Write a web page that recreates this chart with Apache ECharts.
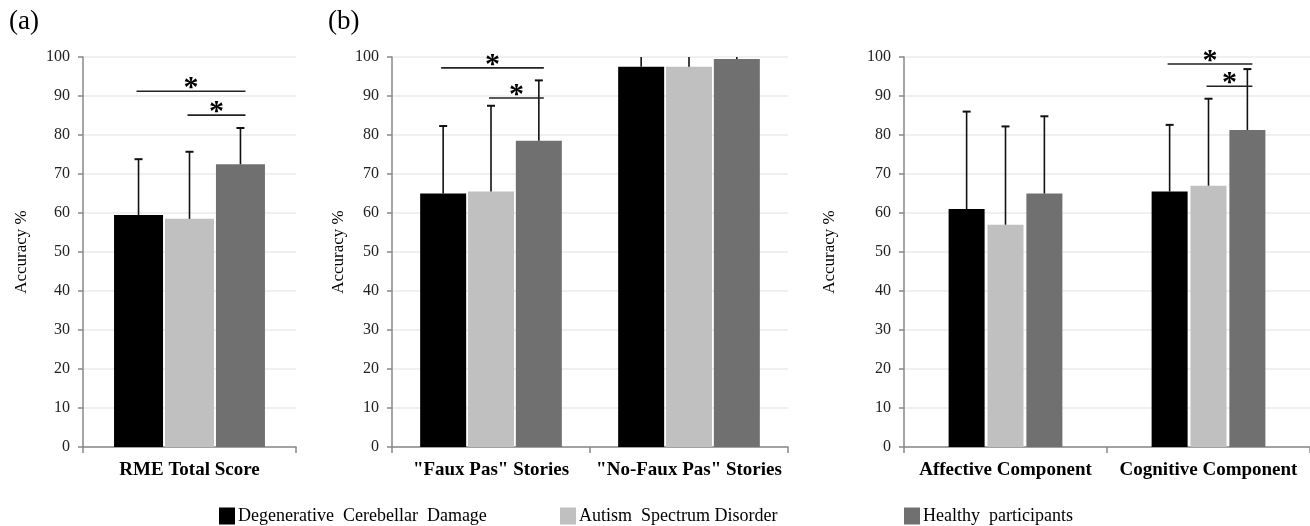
<!DOCTYPE html>
<html>
<head>
<meta charset="utf-8">
<script src="https://cdn.jsdelivr.net/npm/echarts@6/dist/echarts.min.js"></script>
<style>
  html, body { margin: 0; padding: 0; background: #fff; }
  #chart { width: 1310px; height: 526px; }
</style>
</head>
<body>
<div id="chart"></div>
<script>
// groups (legend)
const groups = ['Degenerative  Cerebellar  Damage', 'Autism  Spectrum Disorder', 'Healthy  participants']
const groupColors = ['#000000', '#c0c0c0', '#707070']

// (a) RME
const categoriesA = ['RME Total Score']
const meanA = [[59.5], [58.5], [72.5]]
const upperA = [[73.8], [75.7], [81.8]]
// [category, fromGroup, toGroup, y]
const sigA = [[0, 0, 2, 91.2], [0, 1, 2, 85.1]]

// (b) Faux pas
const categoriesB = ['"Faux Pas" Stories', '"No-Faux Pas" Stories']
const meanB = [[65, 97.5], [65.5, 97.5], [78.5, 99.5]]
const upperB = [[82.3, 103], [87.5, 103], [94, 100.6]]
const sigB = [[0, 0, 2, 97.2], [0, 1, 2, 89.5]]

// (b) components
const categoriesC = ['Affective Component', 'Cognitive Component']
const meanC = [[61, 65.5], [57, 67], [65, 81.3]]
const upperC = [[86, 82.6], [82.2, 89.3], [84.8, 96.9]]
const sigC = [[1, 0, 2, 98.2], [1, 1, 2, 92.5]]

const yTicks = [0, 10, 20, 30, 40, 50, 60, 70, 80, 90, 100]

const font = '"Liberation Serif", "DejaVu Serif", serif'

const panels = [
  { cats: categoriesA, mean: meanA, upper: upperA, sig: sigA, left: 83, right: 1014, bw: 49, gap: 0.04, nameGap: 53 },
  { cats: categoriesB, mean: meanB, upper: upperB, sig: sigB, left: 392, right: 522, bw: 46, gap: 0.04, nameGap: 45 },
  { cats: categoriesC, mean: meanC, upper: upperC, sig: sigC, left: 904, right: -10, bw: 36, gap: 0.08, nameGap: 66 }
]

const chart = echarts.init(document.getElementById('chart'))

const grid = []
const xAxis = []
const yAxis = []
const series = []

panels.forEach((p, i) => {
  grid.push({ left: p.left, right: p.right, top: 57, bottom: 79 })
  xAxis.push({
    type: 'category',
    gridIndex: i,
    data: p.cats,
    axisLine: { lineStyle: { color: '#888', width: 1.5 } },
    axisTick: { show: true, length: 6, lineStyle: { color: '#888', width: 1.5 } },
    axisLabel: { color: '#000', fontFamily: font, fontWeight: 'bold', fontSize: 19, margin: 14, interval: 0 }
  })
  yAxis.push({
    type: 'value',
    gridIndex: i,
    min: yTicks[0],
    max: yTicks[yTicks.length - 1],
    interval: yTicks[1] - yTicks[0],
    name: 'Accuracy %',
    nameLocation: 'middle',
    nameRotate: 90,
    nameGap: p.nameGap,
    nameTextStyle: { color: '#000', fontFamily: font, fontSize: 17 },
    axisLine: { show: true, lineStyle: { color: '#888', width: 1.5 } },
    axisTick: { show: true, length: 5, lineStyle: { color: '#888', width: 1.5 } },
    axisLabel: { color: '#222', fontFamily: font, fontSize: 16, margin: 13 },
    splitLine: { lineStyle: { color: '#ebebeb', width: 1.5 } }
  })

  const step = p.bw * (1 + p.gap)

  groups.forEach((g, k) => {
    series.push({
      name: g,
      type: 'bar',
      xAxisIndex: i,
      yAxisIndex: i,
      barWidth: p.bw,
      barGap: (p.gap * 100) + '%',
      itemStyle: { color: groupColors[k] },
      data: p.mean[k],
      z: 2
    })
  })

  // error bars (upper only)
  groups.forEach((g, k) => {
    series.push({
      type: 'custom',
      xAxisIndex: i,
      yAxisIndex: i,
      clip: true,
      z: 3,
      encode: { x: 0, y: 2 },
      data: p.mean[k].map((m, c) => [c, m, p.upper[k][c]]),
      renderItem(params, api) {
        const c = api.value(0)
        const base = api.coord([c, api.value(1)])
        const top = api.coord([c, api.value(2)])
        const x = base[0] + (k - 1) * step
        return {
          type: 'group',
          children: [
            { type: 'line', shape: { x1: x, y1: base[1], x2: x, y2: top[1] }, style: { stroke: '#111', lineWidth: 1.6 } },
            { type: 'line', shape: { x1: x - 4, y1: top[1], x2: x + 4, y2: top[1] }, style: { stroke: '#111', lineWidth: 2 } }
          ]
        }
      }
    })
  })

  // significance lines
  series.push({
    type: 'custom',
    xAxisIndex: i,
    yAxisIndex: i,
    clip: false,
    z: 4,
    encode: { x: 0, y: 3 },
    data: p.sig,
    renderItem(params, api) {
      const c = api.value(0)
      const pt = api.coord([c, api.value(3)])
      const x1 = pt[0] + (api.value(1) - 1) * step - 2
      const x2 = pt[0] + (api.value(2) - 1) * step + 5
      const y = pt[1]
      return {
        type: 'group',
        children: [
          { type: 'line', shape: { x1: x1, y1: y, x2: x2, y2: y }, style: { stroke: '#222', lineWidth: 1.6 } },
          { type: 'text', x: (x1 + x2) / 2, y: y + 12, style: { text: '*', fill: '#000', font: 'bold 30px ' + font, align: 'center', verticalAlign: 'bottom' } }
        ]
      }
    }
  })
})

const legendLefts = [214, 555, 899]
const legend = groups.map((g, k) => ({
  data: [g],
  left: legendLefts[k],
  top: 502,
  icon: 'rect',
  itemWidth: 16,
  itemHeight: 17,
  itemGap: 4,
  selectedMode: false,
  textStyle: { color: '#000', fontFamily: font, fontSize: 18, padding: [0, 0, 0, -2] }
}))

chart.setOption({
  animation: false,
  grid,
  xAxis,
  yAxis,
  legend,
  series,
  graphic: [
    { type: 'text', left: 9, top: 8, style: { text: '(a)', font: '27px ' + font, fill: '#000' } },
    { type: 'text', left: 328, top: 8, style: { text: '(b)', font: '27px ' + font, fill: '#000' } }
  ]
})
</script>
</body>
</html>
